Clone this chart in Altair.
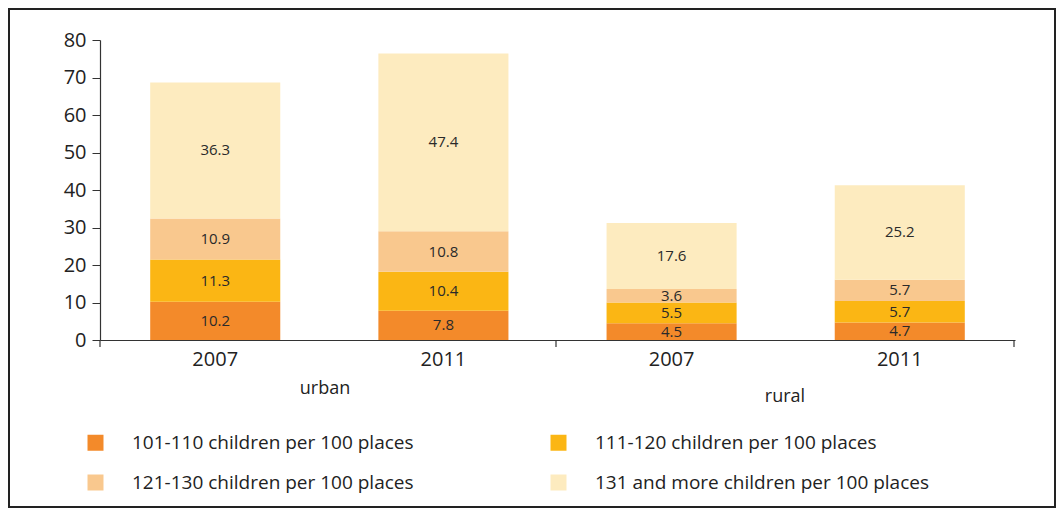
import altair as alt
import pandas as pd

groups = ["urban", "urban", "rural", "rural"]
years = ["2007", "2011", "2007", "2011"]
categories = [
    "101-110  children per 100 places",
    "111-120  children per 100 places",
    "121-130  children per 100 places",
    "131 and more children per 100 places",
]
v_101_110 = [10.2, 7.8, 4.5, 4.7]
v_111_120 = [11.3, 10.4, 5.5, 5.7]
v_121_130 = [10.9, 10.8, 3.6, 5.7]
v_131_more = [36.3, 47.4, 17.6, 25.2]
colors = ["#f38a2a", "#fbb614", "#f9c88e", "#fdebbf"]

series = [v_101_110, v_111_120, v_121_130, v_131_more]
keys = [g + "|" + y for g, y in zip(groups, years)]
rows = []
for ci, (cat, vals) in enumerate(zip(categories, series)):
    for k, v in zip(keys, vals):
        rows.append({"key": k, "cat": cat, "ord": ci, "value": v})
df = pd.DataFrame(rows)
one = pd.DataFrame({"k": [0]})

FONT = "Open Sans"
TXT = "#222"

x_scale = alt.Scale(paddingInner=0.43, paddingOuter=0.22)
x_axis = alt.Axis(
    title=None,
    labelExpr="split(datum.value, '|')[1]",
    labelAngle=0,
    ticks=False,
    grid=False,
    labelPadding=9,
    labelFontSize=20,
    labelFont=FONT,
    labelColor=TXT,
    domainColor="#333",
    domainWidth=1.2,
)
y_scale = alt.Scale(domain=[0, 80], nice=False)
y_axis = alt.Axis(
    title=None,
    values=[0, 10, 20, 30, 40, 50, 60, 70, 80],
    labelOverlap=False,
    grid=False,
    tickSize=8,
    tickColor="#333",
    domainColor="#333",
    domainWidth=1.2,
    labelFontSize=20,
    labelFont=FONT,
    labelColor=TXT,
    labelPadding=6,
)

base = alt.Chart(df)

# white masks over the default view outline (top and right edges)
mask_top = alt.Chart(one).mark_rule(color="white", strokeWidth=3).encode(
    x=alt.value(2), x2=alt.value(918), y=alt.value(0))
mask_right = alt.Chart(one).mark_rule(color="white", strokeWidth=3).encode(
    x=alt.value(915), y=alt.value(-2), y2=alt.value(299))

bars = base.mark_bar().encode(
    x=alt.X("key:N", sort=keys, scale=x_scale, axis=x_axis),
    y=alt.Y("value:Q", stack="zero", scale=y_scale, axis=y_axis),
    color=alt.Color(
        "cat:N",
        sort=categories,
        scale=alt.Scale(domain=categories, range=colors),
        legend=alt.Legend(
            title=None,
            orient="none",
            legendX=-14,
            legendY=393,
            columns=2,
            direction="horizontal",
            columnPadding=130,
            rowPadding=20,
            symbolType="square",
            symbolSize=256,
            symbolStrokeWidth=0,
            symbolOpacity=1,
            labelFontSize=19,
            labelFont=FONT,
            labelColor=TXT,
            labelOffset=27,
            labelLimit=500,
            padding=0,
        ),
    ),
    order=alt.Order("ord:Q"),
)

labels = base.transform_stack(
    stack="value", groupby=["key"], as_=["y0", "y1"], sort=[alt.SortField("ord")]
).transform_calculate(
    mid="(datum.y0 + datum.y1) / 2"
).mark_text(fontSize=15, font=FONT, color="#2a2a2a").encode(
    x=alt.X("key:N", sort=keys, scale=x_scale, axis=x_axis),
    y=alt.Y("mid:Q", scale=y_scale, axis=y_axis),
    text=alt.Text("value:Q", format=".1f"),
)

def tick(xpos):
    return alt.Chart(one).mark_rule(color="#333", strokeWidth=1.2).encode(
        x=alt.value(xpos), y=alt.value(300), y2=alt.value(307))

urban_lbl = alt.Chart(one).mark_text(fontSize=18, font=FONT, color=TXT).encode(
    x=alt.value(225), y=alt.value(349), text=alt.value("urban"))
rural_lbl = alt.Chart(one).mark_text(fontSize=18, font=FONT, color=TXT).encode(
    x=alt.value(685), y=alt.value(357), text=alt.value("rural"))

frame_outer = alt.Chart(one).mark_rect(fill="transparent", stroke="#222", strokeWidth=2).encode(
    x=alt.value(-91), x2=alt.value(955), y=alt.value(-31), y2=alt.value(467))

chart = alt.layer(
    mask_top, mask_right, frame_outer, bars, labels, tick(0), tick(456), tick(914),
    urban_lbl, rural_lbl
).properties(
    width=915,
    height=300,
    background="white",
    autosize=alt.AutoSizeParams(type="none"),
    padding={"left": 92, "top": 32, "right": 41, "bottom": 176},
).configure_view(stroke="transparent", strokeWidth=0)

chart.save("out.html", embed_options={"renderer": "svg", "actions": False})
